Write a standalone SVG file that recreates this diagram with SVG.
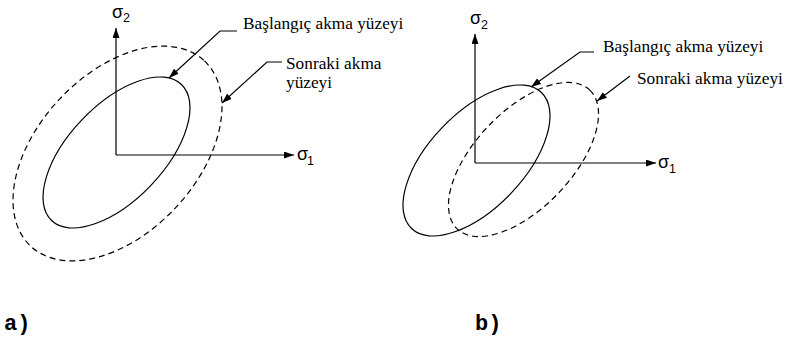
<svg xmlns="http://www.w3.org/2000/svg" width="786" height="343" viewBox="0 0 786 343">
<defs>
<style>
.ln{fill:none;stroke:#000;stroke-width:1.2}
.dash{fill:none;stroke:#000;stroke-width:1.2;stroke-dasharray:6 4}
.lbl{font-family:"Liberation Serif","Times New Roman",serif;font-size:17.3px;fill:#000}
.sig{font-family:"Liberation Sans",Arial,sans-serif;font-size:18px;fill:#000}
.sub{font-family:"Liberation Sans",Arial,sans-serif;font-size:12.5px;fill:#000}
.tag{font-family:"Liberation Mono","Courier New",monospace;font-size:22px;font-weight:bold;fill:#000}
</style>
<marker id="ah" markerUnits="userSpaceOnUse" markerWidth="11" markerHeight="7" refX="10" refY="3.5" orient="auto">
<path d="M0,0 L10,3.5 L0,7 z" fill="#000"/>
</marker>
</defs>

<g id="panel-a">
<g id="axes-a">
<line class="ln" x1="116" y1="155" x2="116" y2="28" marker-end="url(#ah)"/>
<line class="ln" x1="116" y1="155" x2="294" y2="155" marker-end="url(#ah)"/>
<text class="sig" x="112" y="18">σ</text><text class="sub" x="123" y="22">2</text>
<text class="sig" x="297" y="160">σ</text><text class="sub" x="307" y="165">1</text>
</g>
<g id="initial-a">
<ellipse class="ln" cx="116.5" cy="152.5" rx="94" ry="47.6" transform="rotate(-46.3 116.5 152.5)"/>
</g>
<g id="subsequent-a">
<ellipse class="dash" cx="117.5" cy="153.5" rx="127" ry="79.5" transform="rotate(-46.8 117.5 153.5)"/>
</g>
<g id="label-a1"><text class="lbl" x="243" y="28.5">Başlangıç akma yüzeyi</text></g>
<g id="label-a2"><text class="lbl" x="286" y="68.5">Sonraki akma</text><text class="lbl" x="286" y="88">yüzeyi</text></g>
<text class="tag" x="4" y="330">a)</text>
</g>

<g id="panel-b">
<g id="axes-b">
<line class="ln" x1="475" y1="163" x2="475" y2="34" marker-end="url(#ah)"/>
<line class="ln" x1="475" y1="163" x2="656" y2="163" marker-end="url(#ah)"/>
<text class="sig" x="470" y="24">σ</text><text class="sub" x="481" y="29">2</text>
<text class="sig" x="658" y="168">σ</text><text class="sub" x="669" y="173">1</text>
</g>
<g id="initial-b">
<ellipse class="ln" cx="476.5" cy="160.5" rx="94" ry="47.6" transform="rotate(-46.3 476.5 160.5)"/>
</g>
<g id="subsequent-b">
<ellipse class="dash" cx="523.5" cy="159.5" rx="96" ry="48.5" transform="rotate(-46.3 523.5 159.5)"/>
</g>
<g id="label-b1"><text class="lbl" x="603" y="52">Başlangıç akma yüzeyi</text></g>
<g id="label-b2"><text class="lbl" x="637" y="84">Sonraki akma yüzeyi</text></g>
<text class="tag" x="475" y="330">b)</text>
</g>

<g id="connectors">
<polyline class="ln" points="237,31 220,31 169,78" marker-end="url(#ah)"/>
<polyline class="ln" points="282,62 267,62 222,103" marker-end="url(#ah)"/>
<polyline class="ln" points="594,52 580,52 531,87" marker-end="url(#ah)"/>
<polyline class="ln" points="630,76 597,101" marker-end="url(#ah)"/>
</g>
</svg>
